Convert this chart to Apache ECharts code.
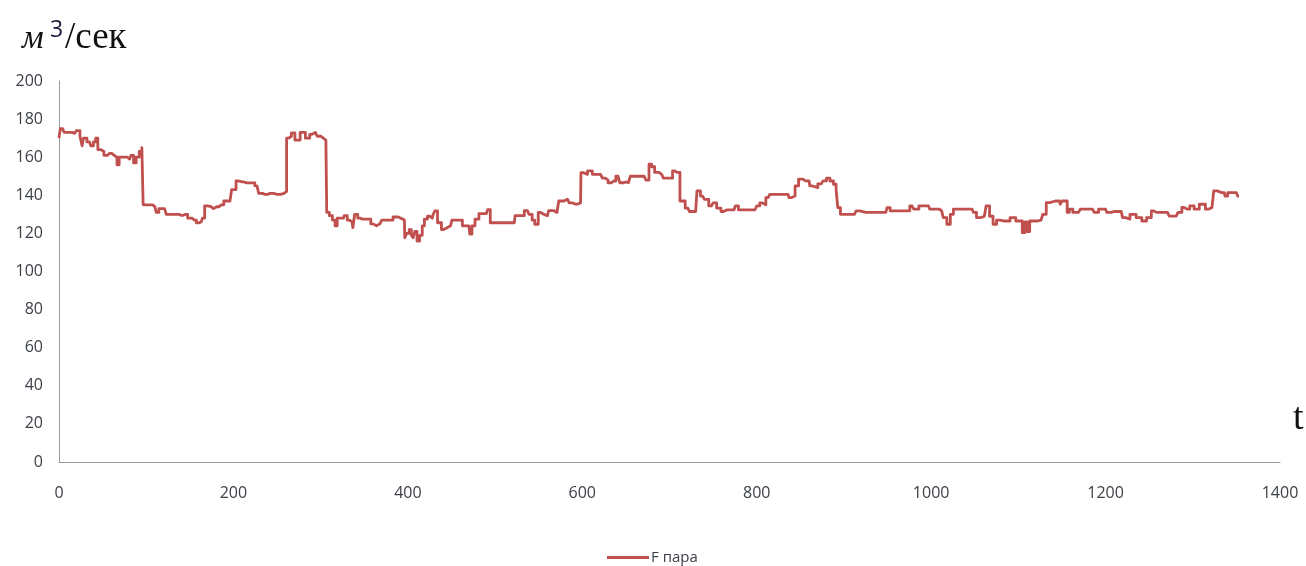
<!DOCTYPE html>
<html>
<head>
<meta charset="utf-8">
<script src="https://cdn.jsdelivr.net/npm/echarts@6/dist/echarts.min.js"></script>
<style>
  html, body { margin: 0; padding: 0; background: #fff; }
  #chart { width: 1306px; height: 566px; }
</style>
</head>
<body>
<div id="chart"></div>
<script>
// Steam flow over time
const seriesName = 'F пара';
const yTicks = [0, 20, 40, 60, 80, 100, 120, 140, 160, 180, 200];
const xTicks = [0, 200, 400, 600, 800, 1000, 1200, 1400];

const timeS = [
  0, 3, 5, 7, 12, 18, 22, 26, 27, 29, 35, 38, 41, 43, 46, 50, 53, 58, 63, 65,
  68, 70, 76, 81, 84, 87, 90, 94, 96, 97, 100, 105, 110, 113, 116, 121, 125, 135, 140, 145,
  150, 155, 160, 163, 166, 168, 172, 177, 181, 186, 192, 196, 200, 206, 210, 215, 222, 227, 231, 236,
  242, 250, 258, 260, 262, 265, 268, 273, 280, 285, 290, 294, 298, 303, 306, 308, 312, 315, 318, 320,
  326, 328, 333, 336, 338, 340, 345, 348, 355, 360, 364, 368, 372, 380, 386, 392, 396, 397, 400, 403,
  405, 407, 409, 412, 415, 418, 420, 425, 428, 430, 432, 436, 441, 445, 449, 452, 460, 465, 470, 472,
  475, 479, 484, 490, 493, 496, 505, 515, 522, 524, 530, 537, 541, 544, 547, 552, 556, 560, 563, 571,
  575, 583, 587, 590, 595, 598, 599, 603, 609, 614, 621, 625, 628, 631, 636, 641, 645, 650, 653, 657,
  665, 671, 675, 678, 681, 685, 691, 695, 701, 706, 709, 715, 721, 725, 730, 733, 738, 742, 748, 752,
  756, 762, 766, 774, 777, 781, 790, 798, 802, 805, 808, 813, 817, 825, 836, 838, 842, 846, 850, 856,
  860, 862, 866, 874, 878, 882, 886, 890, 892, 894, 898, 905, 912, 916, 920, 930, 940, 948, 951, 955,
  965, 973, 978, 982, 990, 997, 1000, 1007, 1012, 1016, 1020, 1024, 1027, 1040, 1047, 1050, 1054, 1061, 1065, 1069,
  1073, 1077, 1081, 1088, 1093, 1095, 1099, 1103, 1106, 1109, 1111, 1115, 1122, 1126, 1130, 1134, 1138, 1147, 1149, 1151,
  1155, 1157, 1160, 1165, 1169, 1173, 1185, 1189, 1195, 1200, 1203, 1210, 1218, 1221, 1225, 1231, 1239, 1244, 1250, 1255,
  1259, 1271, 1275, 1281, 1285, 1290, 1294, 1299, 1304, 1311, 1318, 1322, 1326, 1330, 1336, 1338, 1342, 1350, 1353
];

const flow = [
  170, 175, 176, 173, 173, 172.5, 174, 171, 166, 170, 168, 166, 168, 170, 164, 163, 161, 162, 161, 160,
  156, 160, 160, 159, 161, 157, 160, 163, 165, 135, 135, 135, 134, 131, 133, 133, 130, 130, 129.5, 130,
  128, 127, 125.5, 126, 128, 134.5, 134, 133, 134, 135, 137, 137, 143, 147.5, 147, 146.5, 146.5, 145, 141, 140.5,
  141, 140.5, 141, 142, 170, 171, 172.7, 169, 173, 170, 172, 173, 171, 170, 169, 131, 129.3, 127, 124, 128,
  128, 129.3, 127, 126, 123, 130, 128, 127.5, 127.5, 125, 124, 125, 127, 127, 128.6, 128, 127, 117.7, 120, 122,
  119, 117.7, 121, 116, 119, 124, 127.5, 129, 128, 130, 131.8, 125.6, 122, 123, 124, 127, 127, 124, 124, 119.6,
  124, 127.5, 130.4, 130.4, 132.5, 125.6, 125.6, 125.6, 125.6, 129.3, 129.3, 132, 130, 127, 124.8, 131, 130, 129.3, 132, 131,
  137, 138, 136, 135.3, 135.5, 136, 151.9, 151, 152.8, 151, 151, 149, 148, 146.6, 147.5, 150, 146.6, 147, 146.6, 150,
  150, 150, 148, 156.3, 155, 152, 151, 149, 149, 152.8, 152, 137, 133.3, 131.5, 131.5, 142.3, 139.6, 137.9, 134.4, 136,
  133.3, 131.5, 132.4, 132.4, 134.4, 132.4, 132.4, 132.4, 134.4, 136, 135, 138.8, 140.5, 140.5, 140.5, 138.8, 139.6, 144.9, 148.5, 147.6,
  147.5, 144.9, 144, 146, 147.6, 149, 147.5, 145.8, 143, 133.5, 130, 130, 130, 131.8, 131, 131, 131, 131, 133.5, 131.8,
  131.8, 131.8, 134.4, 132.7, 134.4, 134.4, 132.7, 132.7, 131.8, 128.3, 124.8, 130, 132.7, 132.7, 132.7, 131, 128.3, 129, 134.4, 129,
  124.8, 127, 126.5, 126.5, 128.3, 128.3, 126.5, 126.5, 120.4, 126, 121, 126.5, 126.5, 127, 130, 136.2, 137, 137, 135.3, 137,
  137, 131, 132.7, 131, 131, 132.7, 132.7, 131, 132.7, 132.7, 131, 131.5, 131.5, 128.3, 127.5, 130, 128.3, 126.5, 128.3, 131.8,
  131, 131, 129.1, 129.1, 131, 133.6, 132.7, 134.5, 132.7, 135.3, 132.7, 133.6, 142.3, 141.4, 141.4, 139.6, 141.4, 141.4, 139.6
];

const points = timeS.map((t, i) => [t, flow[i]]);

const chart = echarts.init(document.getElementById('chart'), null, { renderer: 'canvas' });

const tickFont = { fontFamily: 'Open Sans', fontSize: 16, color: '#3c4048' };

chart.setOption({
  animation: false,
  backgroundColor: '#ffffff',
  grid: { left: 59, right: 26, top: 81, bottom: 104, containLabel: false },
  xAxis: {
    type: 'value',
    min: xTicks[0],
    max: xTicks[xTicks.length - 1],
    interval: 200,
    axisLine: { show: true, lineStyle: { color: '#9a9a9a', width: 1 } },
    axisTick: { show: false },
    splitLine: { show: false },
    axisLabel: Object.assign({ margin: 23, formatter: v => String(v) }, tickFont)
  },
  yAxis: {
    type: 'value',
    min: yTicks[0],
    max: yTicks[yTicks.length - 1],
    interval: 20,
    axisLine: { show: true, lineStyle: { color: '#9a9a9a', width: 1 } },
    axisTick: { show: false },
    splitLine: { show: false },
    axisLabel: Object.assign({ margin: 16, formatter: v => String(v) }, tickFont)
  },
  legend: {
    top: 545,
    left: 602,
    itemWidth: 42,
    itemHeight: 3,
    icon: 'rect',
    itemGap: 4,
    textStyle: { fontFamily: 'Open Sans', fontSize: 15, color: '#3c4048', padding: [0, 0, 0, -3] },
    data: [seriesName]
  },
  series: [{
    name: seriesName,
    type: 'line',
    data: points,
    step: 'middle',
    showSymbol: false,
    symbol: 'none',
    lineStyle: { color: '#c0504d', width: 2.8, join: 'round' },
    itemStyle: { color: '#c0504d' }
  }],
  graphic: [
    { type: 'text', left: 22, top: 22, style: { text: 'м', font: 'italic 34px "Liberation Serif"', fill: '#111' } },
    { type: 'text', left: 50, top: 19, style: { text: '3', font: '23px "Open Sans"', fill: '#1a1a3a' } },
    { type: 'text', left: 65, top: 20, style: { text: '/сек', font: '37px "Liberation Serif"', fill: '#111' } },
    { type: 'text', left: 1293, top: 400, style: { text: 't', font: '38px "Liberation Serif"', fill: '#111' } }
  ]
});
</script>
</body>
</html>
